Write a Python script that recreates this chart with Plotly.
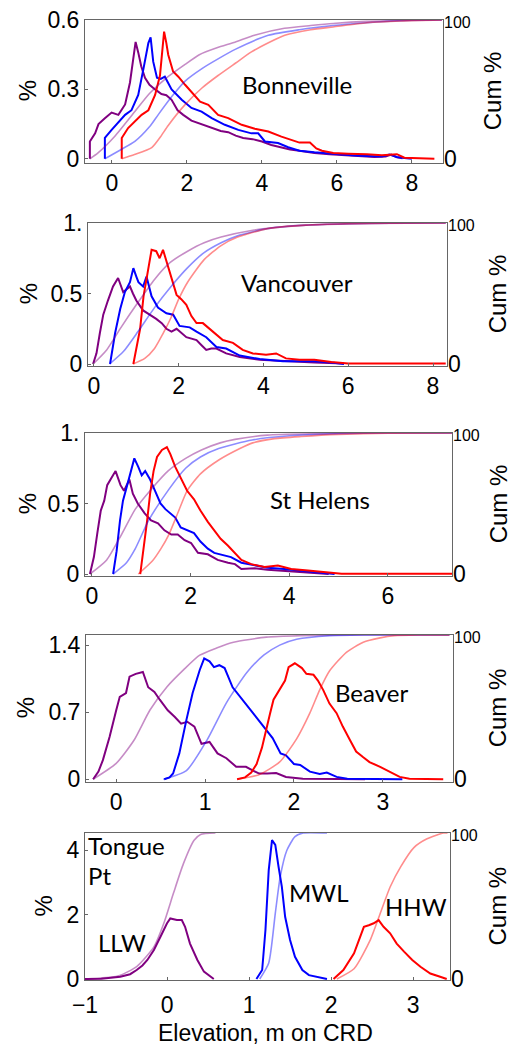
import plotly.graph_objects as go

# ---------------- DATA ----------------
SERIES = ["LLW", "MWL", "HHW"]

# Bonneville
bon_llw_x = [-0.59,-0.59,-0.45,-0.36,-0.19,-0.01,0.17,0.35,0.48,0.56,0.63,0.70,0.78,0.88,1.0,1.15,1.32,1.45,1.59,1.75,1.9,2.12,2.3,2.48,2.7,2.9,3.1,3.3,3.5,3.75,4.0,4.25,4.5,4.75,5.0,5.4,5.8,6.2,6.6,7.0,7.3,7.45,7.6,7.75]
bon_llw_y = [0,0.075,0.11,0.15,0.175,0.20,0.19,0.235,0.33,0.42,0.505,0.46,0.40,0.35,0.32,0.30,0.28,0.275,0.255,0.21,0.19,0.165,0.155,0.145,0.13,0.12,0.115,0.10,0.09,0.085,0.075,0.06,0.05,0.04,0.035,0.025,0.02,0.015,0.01,0.008,0.01,0.018,0.006,0.002]
bon_mwl_x = [-0.19,-0.19,-0.01,0.17,0.35,0.52,0.7,0.84,0.97,1.03,1.1,1.2,1.3,1.41,1.59,1.86,2.12,2.39,2.66,3.01,3.37,3.72,3.9,4.08,4.43,4.7,5.0,5.4,5.9,6.4,6.8,7.2,7.4,7.6,7.8,8.0]
bon_mwl_y = [0,0.09,0.125,0.16,0.19,0.21,0.276,0.39,0.50,0.525,0.42,0.35,0.345,0.355,0.30,0.255,0.22,0.204,0.176,0.147,0.125,0.11,0.11,0.075,0.068,0.05,0.035,0.028,0.02,0.015,0.012,0.01,0.018,0.008,0.003,0]
bon_hhw_x = [0.26,0.26,0.43,0.61,0.79,0.97,1.15,1.28,1.34,1.39,1.45,1.5,1.63,1.77,1.95,2.12,2.35,2.57,2.83,3.1,3.46,3.81,4.17,4.52,4.8,5.0,5.28,5.45,5.6,5.9,6.3,6.8,7.2,7.6,7.8,8.2,8.6]
bon_hhw_y = [0,0.09,0.133,0.16,0.19,0.21,0.276,0.36,0.45,0.55,0.50,0.45,0.377,0.355,0.32,0.29,0.247,0.233,0.19,0.176,0.147,0.13,0.118,0.096,0.08,0.07,0.07,0.045,0.035,0.025,0.022,0.02,0.015,0.02,0.005,0.003,0]
bon_llw_cx = [-0.59,-0.38,0.07,0.61,1.0,1.44,1.95,2.33,2.8,3.28,3.8,4.6,5.3,5.9,6.8,8.0,8.8]
bon_llw_cy = [0,4,16,34,47,58,68,75,80,84,89,94,96,97.5,99,99.8,100]
bon_mwl_cx = [-0.19,0.2,0.61,1.0,1.24,1.6,1.95,2.4,2.83,3.3,4.17,5.0,5.9,6.8,7.7,8.8]
bon_mwl_cy = [0,6,12.5,23,32,45,56,65,72,79,89,93,96,98,99.5,100]
bon_hhw_cx = [0.26,0.6,1.06,1.3,1.5,1.95,2.4,2.83,3.3,3.72,4.2,4.61,5.3,5.9,6.8,7.7,8.8]
bon_hhw_cy = [0,3,8,16,24,39,51,60,69,77,84,89,93,95,98,99.3,100]

# Vancouver
van_llw_x = [-0.02,0.06,0.14,0.22,0.33,0.45,0.57,0.63,0.69,0.77,0.85,0.92,1.0,1.16,1.32,1.47,1.6,1.71,1.83,1.95,2.18,2.42,2.55,2.65,2.77,2.89,3.12,3.44,3.91,4.46,5.2,5.9]
van_llw_y = [0,0.076,0.22,0.35,0.45,0.55,0.61,0.56,0.51,0.53,0.55,0.50,0.45,0.38,0.35,0.32,0.29,0.25,0.23,0.25,0.19,0.17,0.13,0.10,0.11,0.11,0.075,0.05,0.03,0.02,0.01,0.003]
van_mwl_x = [0.38,0.5,0.62,0.73,0.85,0.93,1.0,1.05,1.16,1.24,1.36,1.51,1.71,1.87,2.02,2.26,2.42,2.65,2.89,3.12,3.44,3.91,4.46,5.2,5.6,5.9]
van_mwl_y = [0,0.22,0.39,0.51,0.58,0.68,0.62,0.58,0.55,0.62,0.48,0.40,0.36,0.35,0.27,0.26,0.23,0.19,0.12,0.11,0.06,0.035,0.02,0.02,0.01,0.0]
van_hhw_x = [0.93,1.09,1.17,1.28,1.36,1.47,1.55,1.63,1.71,1.79,1.87,1.95,2.06,2.18,2.3,2.42,2.57,2.81,3.04,3.28,3.51,3.75,4.06,4.3,4.53,4.85,5.2,5.6,6.0,7.0,8.3]
van_hhw_y = [0,0.25,0.48,0.69,0.81,0.80,0.75,0.81,0.73,0.64,0.56,0.49,0.46,0.42,0.34,0.29,0.29,0.23,0.17,0.15,0.10,0.075,0.065,0.075,0.04,0.03,0.03,0.015,0.003,0.003,0.003]
van_llw_cx = [-0.02,0.3,0.64,1.0,1.43,1.8,2.21,2.6,3.0,3.78,4.5,5.5,6.5,8.3]
van_llw_cy = [0,10,26,42,60,72,80,86,90,95,97.5,99,99.7,100]
van_mwl_cx = [0.37,0.7,1.04,1.43,1.82,2.2,2.6,3.0,3.39,4.1,5.0,6.0,7.0,8.3]
van_mwl_cy = [0,9,23,40,55,68,79,86,91,96,98.5,99.5,99.9,100]
van_hhw_cx = [0.92,1.2,1.43,1.62,1.82,2.0,2.21,2.6,3.0,3.39,4.1,5.0,6.0,7.0,8.3]
van_hhw_cy = [0,4,11,21,33,46,58,74,84,90,96,98.5,99.5,99.9,100]

# St Helens
sth_llw_x = [-0.04,0.04,0.11,0.18,0.25,0.31,0.41,0.48,0.58,0.65,0.76,0.83,0.93,1.07,1.2,1.34,1.47,1.61,1.74,1.88,2.01,2.15,2.35,2.55,2.76,2.9,3.03,3.3,3.56,4.04,4.45,4.8]
sth_llw_y = [0,0.12,0.29,0.45,0.52,0.63,0.69,0.73,0.63,0.59,0.67,0.57,0.50,0.43,0.38,0.36,0.31,0.28,0.28,0.24,0.22,0.15,0.14,0.10,0.08,0.07,0.035,0.04,0.03,0.02,0.01,0]
sth_mwl_x = [0.43,0.5,0.57,0.63,0.7,0.77,0.86,0.94,1.01,1.08,1.18,1.28,1.39,1.49,1.59,1.69,1.8,1.93,2.07,2.2,2.35,2.48,2.61,2.82,3.03,3.3,3.56,3.9,4.25,4.6,4.92]
sth_mwl_y = [0,0.16,0.38,0.52,0.61,0.71,0.82,0.76,0.70,0.73,0.67,0.59,0.50,0.46,0.43,0.40,0.33,0.31,0.29,0.23,0.18,0.15,0.14,0.12,0.08,0.06,0.045,0.035,0.02,0.01,0]
sth_hhw_x = [0.98,1.06,1.12,1.18,1.25,1.32,1.42,1.52,1.59,1.69,1.8,1.93,2.07,2.2,2.35,2.48,2.61,2.76,2.9,3.03,3.23,3.5,3.77,4.04,4.38,4.79,5.06,6.0,7.3]
sth_hhw_y = [0,0.21,0.38,0.57,0.73,0.83,0.88,0.90,0.85,0.76,0.68,0.59,0.53,0.45,0.37,0.31,0.25,0.20,0.15,0.10,0.07,0.05,0.06,0.035,0.025,0.01,0.002,0.002,0.002]
sth_llw_cx = [-0.04,0.3,0.6,0.88,1.2,1.54,1.9,2.22,2.6,2.9,3.56,4.5,5.5,7.3]
sth_llw_cy = [0,10,28,46,60,73,82,88,93,95.5,98.5,99.5,100,100]
sth_mwl_cx = [0.43,0.7,0.88,1.15,1.56,1.9,2.2,2.57,3.25,4.0,5.0,6.0,7.3]
sth_mwl_cy = [0,8,18,38,60,75,83,89,95,98,99.5,100,100]
sth_hhw_cx = [0.94,1.22,1.4,1.56,1.75,1.93,2.2,2.58,3.0,3.26,3.7,4.24,5.0,6.0,7.3]
sth_hhw_cy = [0,9,18,28,44,59,71,81,89,93,96,97.5,99,99.8,100]

# Beaver
bea_llw_x = [-0.26,-0.2,-0.15,-0.075,0.0,0.04,0.11,0.15,0.22,0.3,0.36,0.43,0.49,0.58,0.66,0.73,0.8,0.88,0.96,1.05,1.14,1.24,1.35,1.46,1.54,1.61,1.7,1.8,1.91,2.1,2.5,2.8]
bea_llw_y = [0,0.08,0.2,0.44,0.72,0.86,0.9,1.07,1.1,1.12,0.96,0.91,0.83,0.72,0.65,0.58,0.6,0.55,0.37,0.39,0.27,0.22,0.13,0.13,0.09,0.06,0.06,0.066,0.025,0.005,0.003,0]
bea_mwl_x = [0.54,0.6,0.64,0.71,0.79,0.86,0.94,0.99,1.05,1.1,1.16,1.22,1.31,1.42,1.54,1.65,1.76,1.85,1.91,2.0,2.07,2.18,2.29,2.37,2.48,2.6,2.9,3.22]
bea_mwl_y = [0,0.02,0.06,0.27,0.62,0.9,1.14,1.26,1.23,1.17,1.19,1.16,0.96,0.83,0.7,0.56,0.43,0.27,0.25,0.16,0.15,0.08,0.055,0.07,0.025,0.005,0.003,0]
bea_hhw_x = [1.36,1.45,1.52,1.58,1.64,1.69,1.73,1.77,1.84,1.9,1.94,2.01,2.09,2.14,2.22,2.27,2.33,2.4,2.48,2.55,2.63,2.7,2.78,2.85,2.97,3.08,3.19,3.3,3.5,3.68]
bea_hhw_y = [0,0.02,0.07,0.16,0.33,0.51,0.68,0.83,0.93,1.03,1.17,1.21,1.16,1.10,1.09,1.03,0.93,0.79,0.69,0.55,0.41,0.29,0.23,0.18,0.13,0.08,0.025,0.005,0.003,0]
bea_llw_cx = [-0.26,0.0,0.2,0.38,0.57,0.76,0.94,1.13,1.32,1.69,2.07,2.8,3.75]
bea_llw_cy = [0,11,27,48,64,76,86,91,95,98.5,99.5,100,100]
bea_mwl_cx = [0.53,0.79,1.02,1.24,1.47,1.66,1.84,2.03,2.4,2.8,3.75]
bea_mwl_cy = [0,6,27,53,74,86,93,97,99.5,100,100]
bea_hhw_cx = [1.36,1.6,1.84,2.03,2.18,2.29,2.4,2.59,2.78,2.97,3.13,3.4,3.75]
bea_hhw_cy = [0,3,12,28,46,62,75,88,95,98,99.5,100,100]

# Tongue Pt
ton_llw_x = [-1.0,-0.8,-0.57,-0.45,-0.37,-0.3,-0.24,-0.16,-0.08,0.0,0.04,0.08,0.12,0.18,0.22,0.28,0.33,0.37,0.45,0.53,0.57]
ton_llw_y = [0,0.01,0.07,0.15,0.28,0.42,0.59,0.9,1.31,1.73,1.88,1.85,1.83,1.83,1.62,1.1,0.8,0.59,0.23,0.07,0]
ton_mwl_x = [1.09,1.16,1.2,1.24,1.28,1.32,1.36,1.4,1.44,1.5,1.56,1.65,1.73,1.83,1.95]
ton_mwl_y = [0,0.28,1.52,3.38,4.31,4.16,3.48,2.86,1.93,1.21,0.69,0.28,0.12,0.07,0]
ton_hhw_x = [2.03,2.15,2.28,2.36,2.4,2.46,2.52,2.58,2.64,2.72,2.8,2.89,2.99,3.09,3.21,3.33,3.41]
ton_hhw_y = [0,0.28,0.8,1.31,1.62,1.67,1.73,1.83,1.62,1.42,1.1,0.85,0.59,0.38,0.17,0.07,0]
ton_llw_cx = [-1.0,-0.6,-0.37,-0.16,-0.04,0.08,0.2,0.33,0.41,0.59]
ton_llw_cy = [0,2,8.5,22,38,59,79,95,99,100]
ton_mwl_cx = [1.13,1.24,1.32,1.38,1.46,1.56,1.66,1.95]
ton_mwl_cy = [0,11,45,70,88,97.5,100,100]
ton_hhw_cx = [2.07,2.28,2.48,2.6,2.72,2.85,3.01,3.17,3.37,3.42]
ton_hhw_cy = [0,7,27,45,63,77,90,96,100,100]

# Tick labels
bon_yticks, bon_yticktext = [0, 0.3, 0.6], ["0", "0.3", "0.6"]
van_yticks, van_yticktext = [0, 0.5, 1.0], ["0", "0.5", "1."]
sth_yticks, sth_yticktext = [0, 0.5, 1.0], ["0", "0.5", "1."]
bea_yticks, bea_yticktext = [0, 0.7, 1.4], ["0", "0.7", "1.4"]
ton_yticks, ton_yticktext = [0, 2, 4], ["0", "2", "4"]
bon_xticks = [0, 2, 4, 6, 8]
van_xticks = [0, 2, 4, 6, 8]
sth_xticks = [0, 2, 4, 6]
bea_xticks = [0, 1, 2, 3]
ton_xticks, ton_xticktext = [-1, 0, 1, 2, 3], ["\u22121", "0", "1", "2", "3"]

# ---------------- LAYOUT / STYLE ----------------
W, H = 511, 1045
COL = {"LLW": "#800080", "MWL": "#0000FF", "HHW": "#FF0000"}
CUMCOL = {"LLW": "rgba(128,0,128,0.45)", "MWL": "rgba(0,0,255,0.45)", "HHW": "rgba(255,0,0,0.45)"}
TICKFONT = dict(family="Liberation Sans, Arial, sans-serif", size=23, color="black")
LABELFONT = dict(family="Lato, Open Sans, sans-serif", size=24, color="black")
FRAME = "#666666"

panels = [
    dict(name="Bonneville", hist={"LLW": (bon_llw_x, bon_llw_y), "MWL": (bon_mwl_x, bon_mwl_y), "HHW": (bon_hhw_x, bon_hhw_y)},
         cum={"LLW": (bon_llw_cx, bon_llw_cy), "MWL": (bon_mwl_cx, bon_mwl_cy), "HHW": (bon_hhw_cx, bon_hhw_cy)},
         px=(85, 443), py=(20, 162.5), xr=[-0.72, 8.83], yr=[-0.016, 0.6], cr=[-2.7, 100],
         yt=(bon_yticks, bon_yticktext), xt=(bon_xticks, [str(v) for v in bon_xticks]), pct_x=27, cum_x=492, xstand=0),
    dict(name="Vancouver", hist={"LLW": (van_llw_x, van_llw_y), "MWL": (van_mwl_x, van_mwl_y), "HHW": (van_hhw_x, van_hhw_y)},
         cum={"LLW": (van_llw_cx, van_llw_cy), "MWL": (van_mwl_cx, van_mwl_cy), "HHW": (van_hhw_cx, van_hhw_cy)},
         px=(88, 447), py=(223, 365.7), xr=[-0.14, 8.33], yr=[-0.012, 1.0], cr=[-1.2, 100],
         yt=(van_yticks, van_yticktext), xt=(van_xticks, [str(v) for v in van_xticks]), pct_x=28, cum_x=497, xstand=0),
    dict(name="St Helens", hist={"LLW": (sth_llw_x, sth_llw_y), "MWL": (sth_mwl_x, sth_mwl_y), "HHW": (sth_hhw_x, sth_hhw_y)},
         cum={"LLW": (sth_llw_cx, sth_llw_cy), "MWL": (sth_mwl_cx, sth_mwl_cy), "HHW": (sth_hhw_cx, sth_hhw_cy)},
         px=(85, 452), py=(433, 575.7), xr=[-0.14, 7.3], yr=[-0.012, 1.0], cr=[-1.2, 100],
         yt=(sth_yticks, sth_yticktext), xt=(sth_xticks, [str(v) for v in sth_xticks]), pct_x=27, cum_x=498, xstand=0),
    dict(name="Beaver", hist={"LLW": (bea_llw_x, bea_llw_y), "MWL": (bea_mwl_x, bea_mwl_y), "HHW": (bea_hhw_x, bea_hhw_y)},
         cum={"LLW": (bea_llw_cx, bea_llw_cy), "MWL": (bea_mwl_cx, bea_mwl_cy), "HHW": (bea_hhw_cx, bea_hhw_cy)},
         px=(86, 453), py=(635, 781.7), xr=[-0.34, 3.79], yr=[-0.025, 1.505], cr=[-1.7, 100],
         yt=(bea_yticks, bea_yticktext), xt=(bea_xticks, [str(v) for v in bea_xticks]), pct_x=25, cum_x=497, xstand=0),
    dict(name="Tongue Pt", hist={"LLW": (ton_llw_x, ton_llw_y), "MWL": (ton_mwl_x, ton_mwl_y), "HHW": (ton_hhw_x, ton_hhw_y)},
         cum={"LLW": (ton_llw_cx, ton_llw_cy), "MWL": (ton_mwl_cx, ton_mwl_cy), "HHW": (ton_hhw_cx, ton_hhw_cy)},
         px=(85, 450), py=(833, 980), xr=[-1.0, 3.45], yr=[-0.03, 4.53], cr=[-0.7, 100],
         yt=(ton_yticks, ton_yticktext), xt=(ton_xticks, ton_xticktext), pct_x=43, cum_x=497, xstand=4),
]

fig = go.Figure()
layout = dict(width=W, height=H, margin=dict(l=0, r=0, t=0, b=0, pad=0, autoexpand=False),
              paper_bgcolor="white", plot_bgcolor="white", showlegend=False, template="none")
annotations = []

for i, p in enumerate(panels, start=1):
    xa = f"x{i}" if i > 1 else "x"
    yl_n, yr_n = 2 * i - 1, 2 * i
    yl = f"y{yl_n}" if yl_n > 1 else "y"
    yrr = f"y{yr_n}"
    xdom = [p["px"][0] / W, p["px"][1] / W]
    ydom = [1 - p["py"][1] / H, 1 - p["py"][0] / H]
    layout["xaxis" + (str(i) if i > 1 else "")] = dict(
        domain=xdom, anchor=yl, range=p["xr"], showgrid=False, zeroline=False, automargin=False,
        showline=True, mirror=True, linecolor=FRAME, linewidth=1,
        ticks="inside", ticklen=3, tickcolor=FRAME, ticklabelstandoff=p["xstand"],
        tickvals=p["xt"][0], ticktext=p["xt"][1], tickfont=TICKFONT)
    layout["yaxis" + (str(yl_n) if yl_n > 1 else "")] = dict(
        domain=ydom, anchor=xa, range=p["yr"], showgrid=False, zeroline=False, automargin=False,
        showline=True, mirror=True, linecolor=FRAME, linewidth=1,
        ticks="inside", ticklen=3, tickcolor=FRAME,
        tickvals=p["yt"][0], ticktext=p["yt"][1], tickfont=TICKFONT)
    layout["yaxis" + str(yr_n)] = dict(
        overlaying=yl, anchor=xa, side="right", range=p["cr"], showgrid=False, zeroline=False,
        automargin=False, showline=False, ticks="", tickvals=[0, 100],
        ticktext=["0", '<span style="font-size:16px">100</span>'], tickfont=TICKFONT)
    for s in SERIES:
        cx, cy = p["cum"][s]
        fig.add_trace(go.Scatter(x=cx, y=cy, xaxis=xa, yaxis=yrr, mode="lines",
                                 line=dict(color=CUMCOL[s], width=1.6, shape="spline", smoothing=0.6),
                                 hoverinfo="skip"))
    for s in SERIES:
        hx, hy = p["hist"][s]
        fig.add_trace(go.Scatter(x=hx, y=hy, xaxis=xa, yaxis=yl, mode="lines",
                                 line=dict(color=COL[s], width=2), name=s))
    cy_mid = 1 - (p["py"][0] + p["py"][1]) / 2 / H
    annotations.append(dict(text="%", x=p["pct_x"] / W, y=cy_mid, xref="paper", yref="paper",
                            showarrow=False, textangle=-90, xanchor="center", yanchor="middle",
                            font=dict(family="Liberation Sans, Arial, sans-serif", size=24, color="black")))
    annotations.append(dict(text="Cum %", x=p["cum_x"] / W, y=cy_mid, xref="paper", yref="paper",
                            showarrow=False, textangle=-90, xanchor="center", yanchor="middle",
                            font=dict(family="Liberation Sans, Arial, sans-serif", size=24, color="black")))

def lab(text, x, y, anchor="center", size=24):
    annotations.append(dict(text=text, x=x / W, y=1 - y / H, xref="paper", yref="paper",
                            showarrow=False, xanchor=anchor, yanchor="middle",
                            font=dict(LABELFONT, size=size)))

lab("Bonneville", 297, 84)
lab("Vancouver", 297, 282)
lab("St Helens", 320, 499)
lab("Beaver", 371, 692)
lab("Tongue", 86, 845, anchor="left")
lab("Pt", 86, 875, anchor="left")
lab("LLW", 122, 942)
lab("MWL", 318, 892)
lab("HHW", 416, 906)
annotations.append(dict(text="Elevation, m on CRD", x=265 / W, y=1 - 1033 / H, xref="paper", yref="paper",
                        showarrow=False, xanchor="center", yanchor="middle",
                        font=dict(family="Liberation Sans, Arial, sans-serif", size=23, color="black")))

layout["annotations"] = annotations
fig.update_layout(**layout)
fig.write_html("out.html")
